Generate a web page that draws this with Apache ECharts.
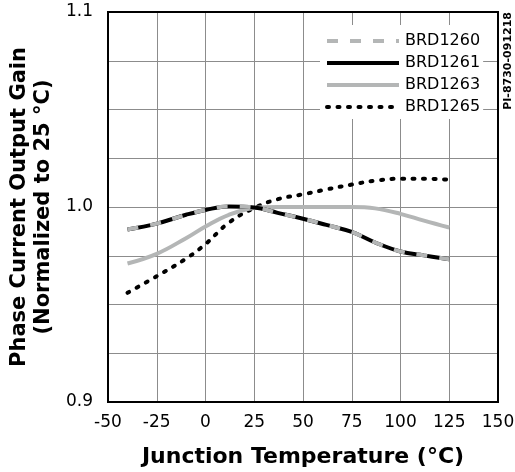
<!DOCTYPE html>
<html>
<head>
<meta charset="utf-8">
<script src="https://cdn.jsdelivr.net/npm/echarts@6/dist/echarts.min.js"></script>
<style>html,body{margin:0;padding:0;background:#fff;}#c{width:515px;height:472px;}</style>
</head>
<body>
<div id="c"></div>
<script>
var temps = [-40, -25, -10, 0, 12, 25, 37, 50, 62, 75, 87, 100, 112, 125];
var brd1260 = [0.9885, 0.9915, 0.9960, 0.9985, 1.0003, 0.9998, 0.9970, 0.9940, 0.9908, 0.9872, 0.9818, 0.9772, 0.9752, 0.9732];
var brd1261 = [0.9885, 0.9915, 0.9960, 0.9985, 1.0003, 0.9998, 0.9970, 0.9940, 0.9908, 0.9872, 0.9818, 0.9772, 0.9752, 0.9732];
var brd1263 = [0.9710, 0.9760, 0.9840, 0.9900, 0.9960, 0.9995, 1.0000, 1.0000, 1.0000, 1.0000, 0.9993, 0.9965, 0.9930, 0.9895];
var brd1265 = [0.9560, 0.9645, 0.9735, 0.9810, 0.9920, 0.9995, 1.0040, 1.0065, 1.0090, 1.0115, 1.0135, 1.0145, 1.0145, 1.0140];
var seriesNames = ['BRD1260', 'BRD1261', 'BRD1263', 'BRD1265'];
var xTickLabels = ['-50', '-25', '0', '25', '50', '75', '100', '125', '150'];
var yTickLabels = ['0.9', '1.0', '1.1'];

function pairs(vals) { return temps.map(function (t, i) { return [t, vals[i]]; }); }

var GRAY = '#b4b6b6';
var styles = [
  { color: GRAY, width: 4, type: [11, 12] },
  { color: '#000', width: 4, type: 'solid' },
  { color: GRAY, width: 4, type: 'solid' },
  { color: '#000', width: 4, type: [2, 8.5], cap: 'round' }
];

var chart = echarts.init(document.getElementById('c'));
var FONT = 'DejaVu Sans';
chart.setOption({
  animation: false,
  backgroundColor: '#fff',
  textStyle: { fontFamily: FONT },
  grid: { left: 108, right: 17, top: 12, bottom: 70, show: true, borderColor: '#000', borderWidth: 2, backgroundColor: 'transparent', z: 3, containLabel: false, outerBoundsMode: 'none' },
  legend: {
    data: seriesNames.map(function (n, i) {
      return { name: n, lineStyle: styles[i], itemStyle: { opacity: 0 } };
    }),
    orient: 'vertical', left: 320, top: 25,
    padding: [8, 3, 4, 5],
    itemWidth: 72, itemHeight: 14, itemGap: 6,
    backgroundColor: '#fff',
    itemStyle: { opacity: 0 },
    textStyle: { fontFamily: FONT, fontSize: 16, color: '#000', padding: [0, 0, 0, 1] },
    selectedMode: false
  },
  xAxis: {
    type: 'value', min: -50, max: 150, interval: 25,
    axisLine: { show: false }, axisTick: { show: false },
    splitLine: { show: true, lineStyle: { color: '#8c8c8c', width: 1 } },
    axisLabel: { fontFamily: FONT, fontSize: 17, color: '#000', margin: 12,
      formatter: function (v) { var i = Math.round((v + 50) / 25); return xTickLabels[i] || ''; } },
    name: 'Junction Temperature (°C)', nameLocation: 'middle', nameGap: 44,
    nameTextStyle: { fontFamily: FONT, fontSize: 22, fontWeight: 'bold', color: '#000' }
  },
  yAxis: {
    type: 'value', min: 0.9, max: 1.1, interval: 0.025,
    axisLine: { show: false }, axisTick: { show: false },
    splitLine: { show: true, lineStyle: { color: '#8c8c8c', width: 1 } },
    axisLabel: { fontFamily: FONT, fontSize: 17, color: '#000', margin: 15,
      formatter: function (v) {
        var k = Math.round((v - 0.9) / 0.025);
        if (k % 4 !== 0) return '';
        return yTickLabels[k / 4] || '';
      } },
    name: 'Phase Current Output Gain\n(Normalized to 25 °C)', nameLocation: 'middle', nameGap: 52, nameRotate: 90,
    nameTextStyle: { fontFamily: FONT, fontSize: 21, fontWeight: 'bold', color: '#000', lineHeight: 24, align: 'center' }
  },
  graphic: [{
    type: 'text', left: 503, top: 12, rotation: Math.PI / 2,
    style: { text: 'PI-8730-091218', font: 'bold 11px "DejaVu Sans"', fill: '#000' },
    originX: 0, originY: 0
  }],
  series: [
    { name: seriesNames[3], type: 'line', data: pairs(brd1265), smooth: 0.4, symbol: 'none', z: 2,
      lineStyle: styles[3], itemStyle: { color: '#000' } },
    { name: seriesNames[2], type: 'line', data: pairs(brd1263), smooth: 0.4, symbol: 'none', z: 2,
      lineStyle: styles[2], itemStyle: { color: GRAY } },
    { name: seriesNames[1], type: 'line', data: pairs(brd1261), smooth: 0.4, symbol: 'none', z: 2,
      lineStyle: styles[1], itemStyle: { color: '#000' } },
    { name: seriesNames[0], type: 'line', data: pairs(brd1260), smooth: 0.4, symbol: 'none', z: 2,
      lineStyle: styles[0], itemStyle: { color: GRAY } }
  ]
});
</script>
</body>
</html>
